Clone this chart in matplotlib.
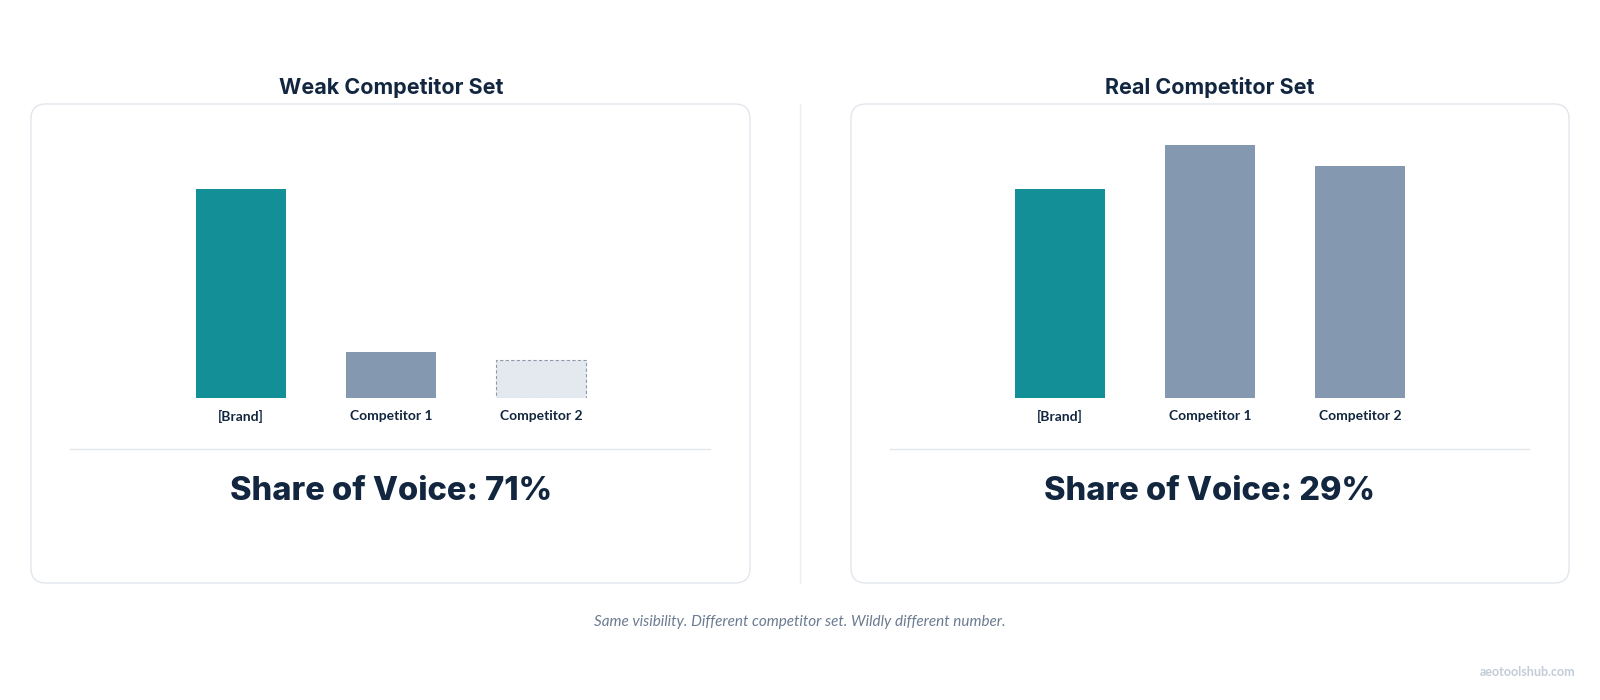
"""Share of voice: weak vs real competitor set."""

import matplotlib.pyplot as plt
from matplotlib.patches import FancyBboxPatch

# data
categories = ["[Brand]", "Competitor 1", "Competitor 2"]
weak_values = [100, 22, 18]
real_values = [100, 121, 111]
panel_titles = ["Weak Competitor Set", "Real Competitor Set"]
sov_labels = ["Share of Voice: 71%", "Share of Voice: 29%"]
caption = "Same visibility. Different competitor set. Wildly different number."
watermark = "aeotoolshub.com"

TEAL = "#138f97"
SLATE = "#8499b0"
GHOST = "#e4e8ef"
NAVY = "#12263f"
BORDER = "#e2e6eb"

W, H = 1600, 700
fig = plt.figure(figsize=(16, 7), dpi=100)
fig.patch.set_facecolor("white")

# pixel-space overlay for boxes, rules and text
bg = fig.add_axes([0, 0, 1, 1])
bg.set_xlim(0, W)
bg.set_ylim(H, 0)
bg.axis("off")


def px_axes(x0, y0, x1, y1):
    """Axes from pixel box (top-left origin)."""
    return fig.add_axes([x0 / W, 1 - y1 / H, (x1 - x0) / W, (y1 - y0) / H])


panels = [
    (31, 750, 391, weak_values, True),
    (851, 1569, 1210, real_values, False),
]

for i, (left, right, cx, values, ghost_last) in enumerate(panels):
    box = FancyBboxPatch(
        (left, 104), right - left, 479,
        boxstyle="round,pad=0,rounding_size=15",
        facecolor="white", edgecolor=BORDER, linewidth=1.0,
    )
    bg.add_patch(box)
    bg.text(cx, 87, panel_titles[i], ha="center", va="center",
            fontsize=15.5, fontweight="bold", color=NAVY, family="Inter")
    bg.plot([left + 39, right - 40], [449, 449], color=BORDER, linewidth=1)
    bg.text(cx, 492, sov_labels[i], ha="center", va="center",
            fontsize=23.5, fontweight="heavy", color=NAVY, family="Inter")

    ax = px_axes(cx - 225, 145, cx + 225, 398)
    ax.set_xlim(-1.5, 1.5)
    ax.set_ylim(0, 121)
    ax.axis("off")
    xs = [-1, 0, 1]
    colors = [TEAL, SLATE, SLATE]
    for j, (x, v) in enumerate(zip(xs, values)):
        if ghost_last and j == 2:
            ax.bar(x, v, width=0.6, color=GHOST, edgecolor="#8d9aaa",
                   linestyle=(0, (3, 2)), linewidth=0.8)
        else:
            ax.bar(x, v, width=0.6, color=colors[j], linewidth=0)
        ax.text(x, -5.5, categories[j], ha="center", va="top",
                fontsize=10, fontweight="bold", color=NAVY,
                family="Lato", clip_on=False)

# divider between panels
bg.plot([800, 800], [104, 583], color="#eceff2", linewidth=1)

bg.text(800, 622, caption, ha="center", va="center", fontsize=11,
        style="italic", color="#6b7b90", family="Lato")
bg.text(1575, 672, watermark, ha="right", va="center", fontsize=9,
        fontweight="bold", color="#c3ccd7", family="Lato")

fig.savefig("out.png", dpi=100, facecolor="white")
